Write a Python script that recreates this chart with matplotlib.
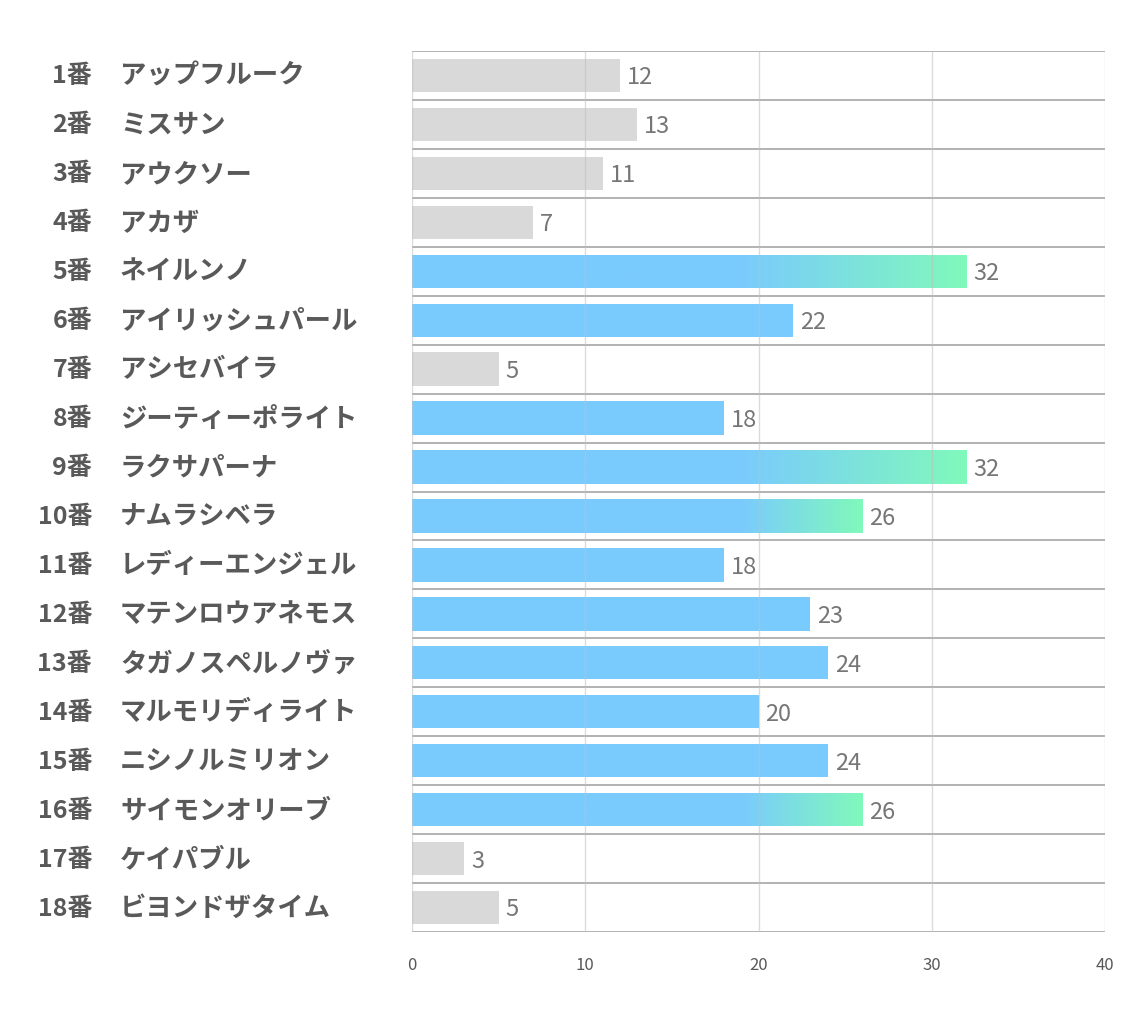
import numpy as np
import matplotlib
matplotlib.use('Agg')
import matplotlib.pyplot as plt
import matplotlib.transforms as mtransforms
from matplotlib.colors import LinearSegmentedColormap

plt.rcParams['font.family'] = ['Noto Sans CJK JP', 'DejaVu Sans']

# data
numbers = ['1番', '2番', '3番', '4番', '5番', '6番', '7番', '8番', '9番',
           '10番', '11番', '12番', '13番', '14番', '15番', '16番', '17番', '18番']
names = ['アップフルーク', 'ミスサン', 'アウクソー', 'アカザ', 'ネイルンノ',
         'アイリッシュパール', 'アシセバイラ', 'ジーティーポライト', 'ラクサパーナ',
         'ナムラシベラ', 'レディーエンジェル', 'マテンロウアネモス', 'タガノスペルノヴァ',
         'マルモリディライト', 'ニシノルミリオン', 'サイモンオリーブ', 'ケイパブル',
         'ビヨンドザタイム']
values = [12, 13, 11, 7, 32, 22, 5, 18, 32, 26, 18, 23, 24, 20, 24, 26, 3, 5]
# 0 = gray, 1 = blue, 2 = blue with green gradient
groups = [0, 0, 0, 0, 2, 1, 0, 1, 2, 2, 1, 1, 1, 1, 1, 2, 0, 0]
xticks = [0, 10, 20, 30, 40]

GRAY = '#d9d9d9'
BLUE = '#7acbfd'
GREEN = '#80f9bb'
grad_start = 19.0
bar_h = 0.68

fig = plt.figure(figsize=(11.34, 10.2), dpi=100)
ax = fig.add_axes([412 / 1134, 87 / 1020, (1105 - 412) / 1134, (933 - 52) / 1020])

n = len(values)
ys = np.arange(n)
cmap = LinearSegmentedColormap.from_list('bg', [BLUE, GREEN])

for y, v, g in zip(ys, values, groups):
    color = GRAY if g == 0 else BLUE
    bars = ax.barh(y, v, height=bar_h, color=color, zorder=2, linewidth=0)
    if g == 2:
        xs = np.linspace(0, v, 512)
        ramp = np.clip((xs - grad_start) / (v - grad_start), 0, 1).reshape(1, -1)
        im = ax.imshow(ramp, cmap=cmap, aspect='auto', zorder=2.1,
                       extent=[0, v, y + bar_h / 2, y - bar_h / 2],
                       interpolation='bilinear', vmin=0, vmax=1)
        im.set_clip_path(bars[0])
    ax.text(v + 0.4, y + 0.03, str(v), va='center', ha='left', fontsize=17,
            color='#767676', zorder=4)

ax.set_xlim(0, 40)
ax.set_ylim(n - 0.5, -0.5)

# row separators
for b in np.arange(n + 1) - 0.5:
    ax.axhline(b, color='#a6a6a6', linewidth=1.2, zorder=3)
# vertical grid
for xv in xticks:
    ax.axvline(xv, color='#bfbfbf', linewidth=1.0, alpha=0.55, zorder=3)

for s in ax.spines.values():
    s.set_visible(False)
ax.set_yticks([])
ax.set_xticks(xticks)
ax.tick_params(axis='x', length=0, pad=17, labelsize=12, labelcolor='#595959')

# left labels
trans = mtransforms.blended_transform_factory(fig.transFigure, ax.transData)
for y, num, name in zip(ys, numbers, names):
    ax.text(92 / 1134, y, num, transform=trans, ha='right', va='center',
            fontsize=18, fontweight='bold', color='#595959')
    ax.text(120 / 1134, y, name, transform=trans, ha='left', va='center',
            fontsize=19, fontweight='bold', color='#595959')

fig.savefig('out.png', dpi=100, facecolor='white')
